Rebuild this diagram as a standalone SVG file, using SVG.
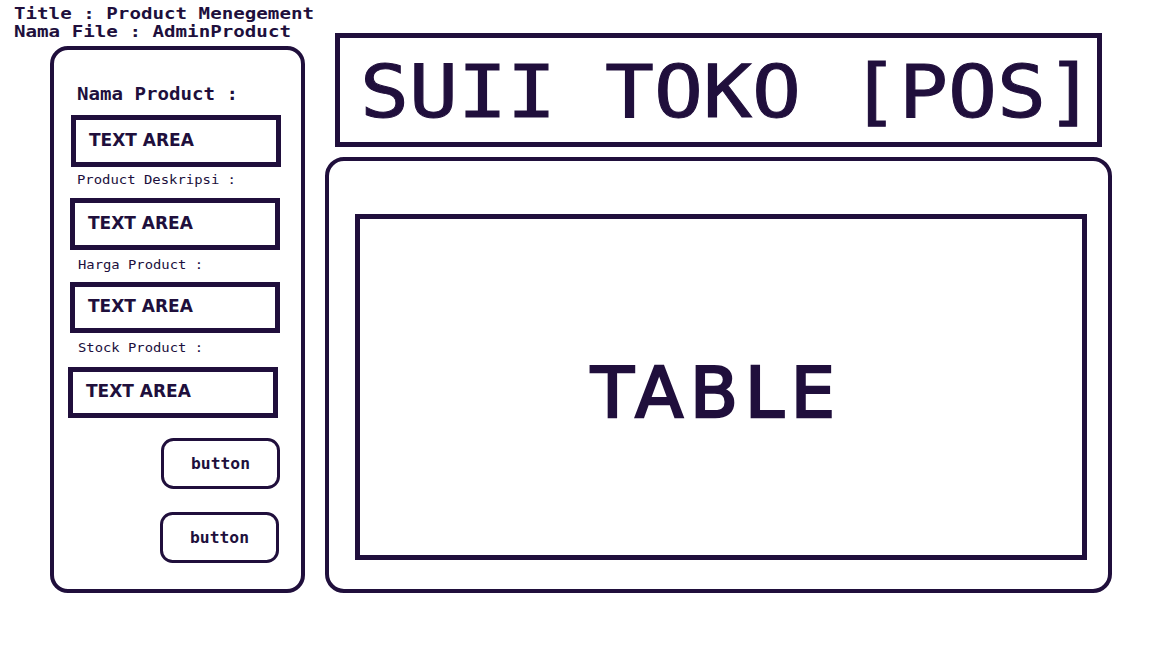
<svg xmlns="http://www.w3.org/2000/svg" width="1152" height="649" viewBox="0 0 1152 649">
<style>
.ln{fill:none;stroke:#200f3c}
.mb{font-family:"DejaVu Sans Mono",monospace;font-weight:bold;fill:#200f3c}
.mr{font-family:"DejaVu Sans Mono",monospace;fill:#200f3c}
.sb{font-family:"DejaVu Sans",sans-serif;font-weight:bold;fill:#200f3c}
.sr{font-family:"DejaVu Sans",sans-serif;fill:#200f3c}
</style>
<rect width="1152" height="649" fill="#ffffff"/>
<g id="title">
<text class="mb" x="14" y="18.5" font-size="16.5" textLength="300" lengthAdjust="spacingAndGlyphs">Title : Product Menegement</text>
<text class="mb" x="14" y="36.5" font-size="16.5" textLength="277" lengthAdjust="spacingAndGlyphs">Nama File : AdminProduct</text>
</g>
<g id="left-panel">
<rect class="ln" x="52" y="48" width="251" height="543" rx="16" stroke-width="4"/>
<text class="mb" x="77" y="99.5" font-size="17" textLength="161" lengthAdjust="spacingAndGlyphs">Nama Product :</text>
</g>
<g id="field-nama">
<rect class="ln" x="73.5" y="117.5" width="205" height="47" stroke-width="5"/>
<text class="sb" x="89" y="146" font-size="17">TEXT AREA</text>
</g>
<g id="field-deskripsi">
<text class="mr" x="77" y="184" font-size="12" textLength="159" lengthAdjust="spacingAndGlyphs">Product Deskripsi :</text>
<rect class="ln" x="72.5" y="200.5" width="205" height="47" stroke-width="5"/>
<text class="sb" x="88" y="229" font-size="17">TEXT AREA</text>
</g>
<g id="field-harga">
<text class="mr" x="78" y="269" font-size="12" textLength="125" lengthAdjust="spacingAndGlyphs">Harga Product :</text>
<rect class="ln" x="72.5" y="284.5" width="205" height="46" stroke-width="5"/>
<text class="sb" x="88" y="312" font-size="17">TEXT AREA</text>
</g>
<g id="field-stock">
<text class="mr" x="78" y="352" font-size="12" textLength="125" lengthAdjust="spacingAndGlyphs">Stock Product :</text>
<rect class="ln" x="70.5" y="369.5" width="205" height="46" stroke-width="5"/>
<text class="sb" x="86" y="397" font-size="17">TEXT AREA</text>
</g>
<g id="button-1">
<rect class="ln" x="162.5" y="439.5" width="116" height="48" rx="11" stroke-width="3"/>
<text class="mb" x="191" y="468.5" font-size="15" textLength="59" lengthAdjust="spacingAndGlyphs">button</text>
</g>
<g id="button-2">
<rect class="ln" x="161.5" y="513.5" width="116" height="48" rx="11" stroke-width="3"/>
<text class="mb" x="190" y="542.5" font-size="15" textLength="59" lengthAdjust="spacingAndGlyphs">button</text>
</g>
<g id="header">
<rect class="ln" x="337.5" y="35.5" width="762" height="109" stroke-width="5"/>
<text class="mr" x="360" y="116.5" font-size="73" textLength="735" lengthAdjust="spacingAndGlyphs" stroke="#200f3c" stroke-width="1">SUII TOKO [POS]</text>
</g>
<g id="main-panel">
<rect class="ln" x="327" y="159" width="783" height="432" rx="17" stroke-width="4"/>
</g>
<g id="table">
<rect class="ln" x="357.5" y="216.5" width="727" height="341" stroke-width="5"/>
<text class="sr" x="591" y="417" font-size="70" textLength="244" lengthAdjust="spacing" stroke="#200f3c" stroke-width="2.5">TABLE</text>
</g>
<g id="connectors"></g>
</svg>
